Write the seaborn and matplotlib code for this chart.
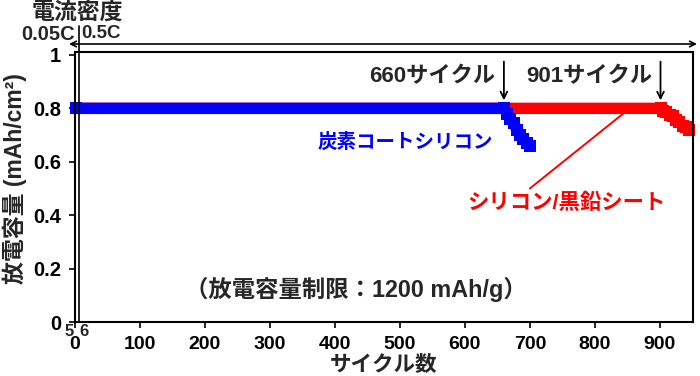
import matplotlib
matplotlib.use("Agg")
import matplotlib.pyplot as plt
import seaborn as sns
import pandas as pd

# ---- data ----
blue_cycles = [1, 660, 665, 670, 675, 680, 685, 690, 695, 700]
blue_capacity = [0.80, 0.80, 0.78, 0.76, 0.745, 0.72, 0.70, 0.685, 0.67, 0.66]
red_cycles = [1, 901, 905, 910, 915, 920, 925, 930, 935, 940, 945]
red_capacity = [0.80, 0.80, 0.79, 0.785, 0.775, 0.77, 0.755, 0.75, 0.735, 0.73, 0.72]
blue_name = "炭素コートシリコン"
red_name = "シリコン/黒鉛シート"
x_ticks = [0, 100, 200, 300, 400, 500, 600, 700, 800, 900]
y_ticks = [0, 0.2, 0.4, 0.6, 0.8, 1.0]
y_tick_labels = ["0", "0.2", "0.4", "0.6", "0.8", "1"]
marked_cycles = [660, 901]
rate_boundary = 5.5

sns.set_style("ticks")
plt.rcParams["font.family"] = ["Liberation Sans", "Noto Sans CJK JP"]
plt.rcParams["font.weight"] = "bold"

W, H = 700, 376
fig = plt.figure(figsize=(7, 3.76), dpi=100)
L, R, T, B = 75, 693, 52, 322
ax = fig.add_axes([L / W, 1 - B / H, (R - L) / W, (B - T) / H])

def fx(px):
    return px / W

def fy(py):
    return 1 - py / H

df = pd.DataFrame({
    "cycle": red_cycles + blue_cycles,
    "capacity": red_capacity + blue_capacity,
    "series": [red_name] * len(red_cycles) + [blue_name] * len(blue_cycles),
})
sns.lineplot(data=df, x="cycle", y="capacity", hue="series",
             hue_order=[red_name, blue_name],
             palette={red_name: "#ff0000", blue_name: "#0000ff"},
             marker="s", markersize=8, markeredgewidth=0, linewidth=8.2,
             sort=False, estimator=None, legend=False, ax=ax)
for ln in ax.lines:
    ln.set_clip_on(False)

ax.set_xlim(0, 951)
ax.set_ylim(0, 1.011)
ax.set_xticks(x_ticks)
ax.set_xticklabels([str(v) for v in x_ticks], fontsize=14, fontweight="bold")
ax.set_yticks(y_ticks)
ax.set_yticklabels(y_tick_labels, fontsize=14.5, fontweight="bold")
ax.tick_params(direction="out", length=4, width=1.2, colors="black", pad=6)
for s in ax.spines.values():
    s.set_visible(True)
    s.set_linewidth(1.5)
    s.set_color("black")

ax.set_xlabel("サイクル数", fontsize=15.5, fontweight="bold", labelpad=0)
ax.xaxis.set_label_coords(0.5, -0.122)
ax.set_ylabel("放電容量 (mAh/cm²)", fontsize=16.5, fontweight="bold")
ax.yaxis.set_label_coords(-0.078, 0.53)

# rate boundary line
ax.axvline(rate_boundary, ymin=0, ymax=(B - 26) / (B - T), color="black",
           linewidth=1.2, clip_on=False)

# annotations
ax.text(647, 0.918, "660サイクル", fontsize=16, fontweight="bold",
        ha="right", va="center")
ax.text(889, 0.918, "901サイクル", fontsize=16, fontweight="bold",
        ha="right", va="center")
for c in marked_cycles:
    ax.annotate("", xy=(c, 0.83), xytext=(c, 0.975),
                arrowprops=dict(arrowstyle="->", color="black", lw=1.3,
                                mutation_scale=12, shrinkA=0, shrinkB=0))
ax.text(508, 0.674, blue_name, color="#0000ff", fontsize=14,
        fontweight="bold", ha="center", va="center")
ax.text(757, 0.446, red_name, color="#ff0000", fontsize=15.4,
        fontweight="bold", ha="center", va="center")
ax.plot([700, 846], [0.50, 0.785], color="#ff0000", linewidth=1.4)
ax.text(432, 0.12, "（放電容量制限：1200 mAh/g）", fontsize=16.8,
        fontweight="bold", ha="center", va="center")

# top current-density labels
fig.text(fx(77), fy(13), "電流密度", fontsize=16.5, fontweight="bold",
         ha="center", va="center")
fig.text(fx(75), fy(34), "0.05C", fontsize=14.5, fontweight="bold",
         ha="right", va="center")
fig.text(fx(81), fy(34), "0.5C", fontsize=13.5, fontweight="bold",
         ha="left", va="center")
fig.patches.append(matplotlib.patches.FancyArrowPatch(
    (fx(69), fy(44)), (fx(697), fy(44)), transform=fig.transFigure,
    arrowstyle="<->", mutation_scale=10, color="black", lw=1.2,
    shrinkA=0, shrinkB=0))
fig.text(fx(69), fy(331), "5", fontsize=12, fontweight="bold",
         ha="center", va="center")
fig.text(fx(84), fy(331), "6", fontsize=12, fontweight="bold",
         ha="center", va="center")

fig.savefig("out.png", dpi=100)
